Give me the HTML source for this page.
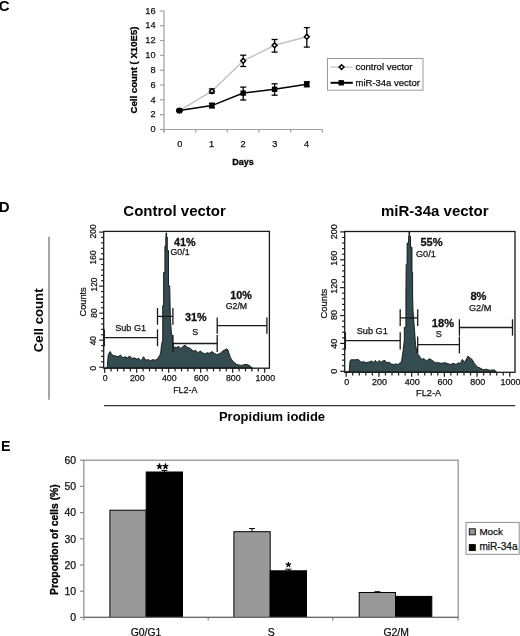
<!DOCTYPE html>
<html><head><meta charset="utf-8"><style>
html,body{margin:0;padding:0;background:#fff;}
body{width:520px;height:636px;overflow:hidden;}
svg{display:block;font-family:"Liberation Sans", sans-serif;filter:blur(0.3px);}
</style></head><body>
<svg width="520" height="636" viewBox="0 0 520 636">
<text x="-1.3" y="10.9" font-size="15" font-weight="bold" text-anchor="start" fill="#000">C</text>
<line x1="164.00" y1="11.00" x2="164.00" y2="132.50" stroke="#a0a0a0" stroke-width="1.2"/>
<line x1="160.00" y1="129.50" x2="164.00" y2="129.50" stroke="#a0a0a0" stroke-width="1.2"/>
<text x="155.5" y="132.3" font-size="9.2" stroke="#111" stroke-width="0.25" text-anchor="end" fill="#111">0</text>
<line x1="160.00" y1="114.67" x2="164.00" y2="114.67" stroke="#a0a0a0" stroke-width="1.2"/>
<text x="155.5" y="117.47" font-size="9.2" stroke="#111" stroke-width="0.25" text-anchor="end" fill="#111">2</text>
<line x1="160.00" y1="99.84" x2="164.00" y2="99.84" stroke="#a0a0a0" stroke-width="1.2"/>
<text x="155.5" y="102.64" font-size="9.2" stroke="#111" stroke-width="0.25" text-anchor="end" fill="#111">4</text>
<line x1="160.00" y1="85.01" x2="164.00" y2="85.01" stroke="#a0a0a0" stroke-width="1.2"/>
<text x="155.5" y="87.81" font-size="9.2" stroke="#111" stroke-width="0.25" text-anchor="end" fill="#111">6</text>
<line x1="160.00" y1="70.18" x2="164.00" y2="70.18" stroke="#a0a0a0" stroke-width="1.2"/>
<text x="155.5" y="72.98" font-size="9.2" stroke="#111" stroke-width="0.25" text-anchor="end" fill="#111">8</text>
<line x1="160.00" y1="55.35" x2="164.00" y2="55.35" stroke="#a0a0a0" stroke-width="1.2"/>
<text x="155.5" y="58.15" font-size="9.2" stroke="#111" stroke-width="0.25" text-anchor="end" fill="#111">10</text>
<line x1="160.00" y1="40.52" x2="164.00" y2="40.52" stroke="#a0a0a0" stroke-width="1.2"/>
<text x="155.5" y="43.32" font-size="9.2" stroke="#111" stroke-width="0.25" text-anchor="end" fill="#111">12</text>
<line x1="160.00" y1="25.69" x2="164.00" y2="25.69" stroke="#a0a0a0" stroke-width="1.2"/>
<text x="155.5" y="28.49" font-size="9.2" stroke="#111" stroke-width="0.25" text-anchor="end" fill="#111">14</text>
<line x1="160.00" y1="10.86" x2="164.00" y2="10.86" stroke="#a0a0a0" stroke-width="1.2"/>
<text x="155.5" y="13.66" font-size="9.2" stroke="#111" stroke-width="0.25" text-anchor="end" fill="#111">16</text>
<line x1="160.00" y1="129.50" x2="322.30" y2="129.50" stroke="#a0a0a0" stroke-width="1.2"/>
<line x1="164.00" y1="129.50" x2="164.00" y2="132.50" stroke="#a0a0a0" stroke-width="1.2"/>
<line x1="195.66" y1="129.50" x2="195.66" y2="132.50" stroke="#a0a0a0" stroke-width="1.2"/>
<line x1="227.32" y1="129.50" x2="227.32" y2="132.50" stroke="#a0a0a0" stroke-width="1.2"/>
<line x1="258.98" y1="129.50" x2="258.98" y2="132.50" stroke="#a0a0a0" stroke-width="1.2"/>
<line x1="290.64" y1="129.50" x2="290.64" y2="132.50" stroke="#a0a0a0" stroke-width="1.2"/>
<line x1="322.30" y1="129.50" x2="322.30" y2="132.50" stroke="#a0a0a0" stroke-width="1.2"/>
<text x="179.83" y="146.9" font-size="9.2" stroke="#111" stroke-width="0.25" text-anchor="middle" fill="#111">0</text>
<text x="211.49" y="146.9" font-size="9.2" stroke="#111" stroke-width="0.25" text-anchor="middle" fill="#111">1</text>
<text x="243.15" y="146.9" font-size="9.2" stroke="#111" stroke-width="0.25" text-anchor="middle" fill="#111">2</text>
<text x="274.81" y="146.9" font-size="9.2" stroke="#111" stroke-width="0.25" text-anchor="middle" fill="#111">3</text>
<text x="306.47" y="146.9" font-size="9.2" stroke="#111" stroke-width="0.25" text-anchor="middle" fill="#111">4</text>
<text x="243" y="164.7" font-size="9" font-weight="bold" stroke="#000" stroke-width="0.3" text-anchor="middle" fill="#000">Days</text>
<text x="137.4" y="70.0" font-size="9.6" font-weight="bold" stroke="#000" stroke-width="0.3" text-anchor="middle" fill="#000" transform="rotate(-90 137.4 70.0)">Cell count ( X10E5)</text>
<polyline fill="none" stroke="#c2c2c2" stroke-width="1.5" points="179.4,110.6 211.9,91.2 243.2,60.8 274.6,45.3 306.8,36.8"/>
<line x1="179.40" y1="109.80" x2="179.40" y2="111.40" stroke="#000" stroke-width="1.3"/>
<line x1="176.40" y1="109.80" x2="182.40" y2="109.80" stroke="#000" stroke-width="1.3"/>
<line x1="176.40" y1="111.40" x2="182.40" y2="111.40" stroke="#000" stroke-width="1.3"/>
<line x1="211.90" y1="88.90" x2="211.90" y2="93.10" stroke="#000" stroke-width="1.3"/>
<line x1="208.90" y1="88.90" x2="214.90" y2="88.90" stroke="#000" stroke-width="1.3"/>
<line x1="208.90" y1="93.10" x2="214.90" y2="93.10" stroke="#000" stroke-width="1.3"/>
<line x1="243.20" y1="55.20" x2="243.20" y2="66.50" stroke="#000" stroke-width="1.3"/>
<line x1="240.20" y1="55.20" x2="246.20" y2="55.20" stroke="#000" stroke-width="1.3"/>
<line x1="240.20" y1="66.50" x2="246.20" y2="66.50" stroke="#000" stroke-width="1.3"/>
<line x1="274.60" y1="39.50" x2="274.60" y2="52.10" stroke="#000" stroke-width="1.3"/>
<line x1="271.60" y1="39.50" x2="277.60" y2="39.50" stroke="#000" stroke-width="1.3"/>
<line x1="271.60" y1="52.10" x2="277.60" y2="52.10" stroke="#000" stroke-width="1.3"/>
<line x1="306.80" y1="27.60" x2="306.80" y2="47.10" stroke="#000" stroke-width="1.3"/>
<line x1="303.80" y1="27.60" x2="309.80" y2="27.60" stroke="#000" stroke-width="1.3"/>
<line x1="303.80" y1="47.10" x2="309.80" y2="47.10" stroke="#000" stroke-width="1.3"/>
<path d="M179.4,108.2 L181.8,110.6 L179.4,113.0 L177.0,110.6 Z" fill="#fff" stroke="#000" stroke-width="1.5"/>
<path d="M211.9,88.8 L214.3,91.2 L211.9,93.6 L209.5,91.2 Z" fill="#fff" stroke="#000" stroke-width="1.5"/>
<path d="M243.2,58.4 L245.6,60.8 L243.2,63.2 L240.8,60.8 Z" fill="#fff" stroke="#000" stroke-width="1.5"/>
<path d="M274.6,42.9 L277.0,45.3 L274.6,47.7 L272.2,45.3 Z" fill="#fff" stroke="#000" stroke-width="1.5"/>
<path d="M306.8,34.4 L309.2,36.8 L306.8,39.2 L304.4,36.8 Z" fill="#fff" stroke="#000" stroke-width="1.5"/>
<polyline fill="none" stroke="#000" stroke-width="1.5" points="179.4,110.6 211.9,105.6 243.2,93.1 274.6,89.3 306.8,84.2"/>
<line x1="179.40" y1="109.80" x2="179.40" y2="111.40" stroke="#000" stroke-width="1.3"/>
<line x1="176.40" y1="109.80" x2="182.40" y2="109.80" stroke="#000" stroke-width="1.3"/>
<line x1="176.40" y1="111.40" x2="182.40" y2="111.40" stroke="#000" stroke-width="1.3"/>
<line x1="211.90" y1="103.20" x2="211.90" y2="107.80" stroke="#000" stroke-width="1.3"/>
<line x1="208.90" y1="103.20" x2="214.90" y2="103.20" stroke="#000" stroke-width="1.3"/>
<line x1="208.90" y1="107.80" x2="214.90" y2="107.80" stroke="#000" stroke-width="1.3"/>
<line x1="243.20" y1="87.10" x2="243.20" y2="100.00" stroke="#000" stroke-width="1.3"/>
<line x1="240.20" y1="87.10" x2="246.20" y2="87.10" stroke="#000" stroke-width="1.3"/>
<line x1="240.20" y1="100.00" x2="246.20" y2="100.00" stroke="#000" stroke-width="1.3"/>
<line x1="274.60" y1="83.80" x2="274.60" y2="95.20" stroke="#000" stroke-width="1.3"/>
<line x1="271.60" y1="83.80" x2="277.60" y2="83.80" stroke="#000" stroke-width="1.3"/>
<line x1="271.60" y1="95.20" x2="277.60" y2="95.20" stroke="#000" stroke-width="1.3"/>
<line x1="306.80" y1="81.80" x2="306.80" y2="86.80" stroke="#000" stroke-width="1.3"/>
<line x1="303.80" y1="81.80" x2="309.80" y2="81.80" stroke="#000" stroke-width="1.3"/>
<line x1="303.80" y1="86.80" x2="309.80" y2="86.80" stroke="#000" stroke-width="1.3"/>
<rect x="176.7" y="107.9" width="5.4" height="5.4" fill="#000"/>
<rect x="209.2" y="102.9" width="5.4" height="5.4" fill="#000"/>
<rect x="240.5" y="90.4" width="5.4" height="5.4" fill="#000"/>
<rect x="271.9" y="86.6" width="5.4" height="5.4" fill="#000"/>
<rect x="304.1" y="81.5" width="5.4" height="5.4" fill="#000"/>
<rect x="327.5" y="58.5" width="95.5" height="31.7" fill="#fff" stroke="#9a9a9a" stroke-width="1"/>
<line x1="330.60" y1="67.10" x2="352.80" y2="67.10" stroke="#bdbdbd" stroke-width="1.2"/>
<path d="M341.6,64.7 L344,67.1 L341.6,69.5 L339.2,67.1 Z" fill="#fff" stroke="#000" stroke-width="1.5"/>
<text x="355.5" y="69.8" font-size="9.5" stroke="#111" stroke-width="0.25" text-anchor="start" fill="#111">control vector</text>
<line x1="330.60" y1="82.80" x2="352.80" y2="82.80" stroke="#000" stroke-width="2"/>
<rect x="338.5" y="80.1" width="5.4" height="5.4" fill="#000"/>
<text x="355.5" y="86.1" font-size="9.5" stroke="#111" stroke-width="0.25" text-anchor="start" fill="#111">miR-34a vector</text>
<text x="-1.2" y="212.4" font-size="15" font-weight="bold" text-anchor="start" fill="#000">D</text>
<text x="174.6" y="216.3" font-size="15" font-weight="bold" text-anchor="middle" fill="#000">Control vector</text>
<text x="434.8" y="216.3" font-size="15" font-weight="bold" text-anchor="middle" fill="#000">miR-34a vector</text>
<line x1="49.00" y1="236.70" x2="49.00" y2="399.80" stroke="#6a6a6a" stroke-width="1.2"/>
<text x="43.0" y="320.3" font-size="13.2" font-weight="bold" text-anchor="middle" fill="#000" transform="rotate(-90 43.0 320.3)">Cell count</text>
<line x1="104.00" y1="405.70" x2="515.20" y2="405.70" stroke="#333" stroke-width="1.2"/>
<text x="272" y="421" font-size="13" font-weight="bold" text-anchor="middle" fill="#000">Propidium iodide</text>
<polygon fill="#344b4f" stroke="#0c1414" stroke-width="0.9" stroke-linejoin="miter" points="104.5,368.0 107.2,368.0 107.6,362.0 108.3,354.4 110.1,351.5 111.8,354.4 113.5,355.5 115.8,356.1 118.2,356.7 120.5,355.0 122.8,357.8 125.1,356.7 127.4,357.8 129.7,356.1 132.0,358.4 134.3,357.8 136.6,359.0 138.9,358.4 141.2,360.7 143.5,356.7 145.8,360.2 148.2,359.6 150.5,360.7 152.8,359.6 155.1,360.2 157.4,359.0 159.7,355.5 160.8,352.0 161.5,344.6 162.7,340.0 162.7,305.6 163.6,305.6 163.6,272.5 164.9,272.5 164.9,246.1 165.8,246.1 165.8,237.1 166.0,237.1 166.0,232.9 166.6,232.9 166.6,237.1 167.3,237.1 167.3,250.6 168.5,250.6 168.5,285.7 169.7,285.7 170.0,300.0 170.4,318.6 171.5,334.0 172.6,336.0 172.6,341.8 173.8,347.0 176.1,347.5 179.0,346.4 180.7,348.7 183.0,346.4 185.3,345.2 187.0,347.5 188.8,347.5 191.1,349.3 193.4,351.0 195.7,350.4 198.0,352.7 200.3,351.0 202.6,352.7 204.9,353.9 207.2,352.7 209.5,353.3 211.8,351.6 214.2,353.3 216.5,354.5 218.8,353.9 220.1,353.5 222.7,350.9 224.7,349.9 226.8,348.8 227.9,349.9 228.9,353.0 230.5,357.7 232.5,360.8 234.6,362.8 236.7,364.4 238.8,364.9 241.9,365.4 244.0,364.7 246.0,364.4 248.1,364.9 250.2,366.0 251.7,367.5 252.5,368.0"/>
<rect x="103.7" y="231.4" width="165.7" height="136.79999999999998" fill="none" stroke="#1a1a1a" stroke-width="1.3"/>
<line x1="99.20" y1="367.20" x2="103.70" y2="367.20" stroke="#1a1a1a" stroke-width="1.2"/>
<text x="96.5" y="368.1" font-size="8.4" stroke="#111" stroke-width="0.25" text-anchor="middle" fill="#111" transform="rotate(-90 96.5 368.1)">0</text>
<line x1="101.10" y1="361.80" x2="103.70" y2="361.80" stroke="#1a1a1a" stroke-width="1.2"/>
<line x1="101.10" y1="356.39" x2="103.70" y2="356.39" stroke="#1a1a1a" stroke-width="1.2"/>
<line x1="101.10" y1="350.99" x2="103.70" y2="350.99" stroke="#1a1a1a" stroke-width="1.2"/>
<line x1="101.10" y1="345.58" x2="103.70" y2="345.58" stroke="#1a1a1a" stroke-width="1.2"/>
<line x1="99.20" y1="340.18" x2="103.70" y2="340.18" stroke="#1a1a1a" stroke-width="1.2"/>
<text x="96.5" y="340.7" font-size="8.4" stroke="#111" stroke-width="0.25" text-anchor="middle" fill="#111" transform="rotate(-90 96.5 340.7)">40</text>
<line x1="101.10" y1="334.78" x2="103.70" y2="334.78" stroke="#1a1a1a" stroke-width="1.2"/>
<line x1="101.10" y1="329.37" x2="103.70" y2="329.37" stroke="#1a1a1a" stroke-width="1.2"/>
<line x1="101.10" y1="323.97" x2="103.70" y2="323.97" stroke="#1a1a1a" stroke-width="1.2"/>
<line x1="101.10" y1="318.56" x2="103.70" y2="318.56" stroke="#1a1a1a" stroke-width="1.2"/>
<line x1="99.20" y1="313.16" x2="103.70" y2="313.16" stroke="#1a1a1a" stroke-width="1.2"/>
<text x="96.5" y="313.0" font-size="8.4" stroke="#111" stroke-width="0.25" text-anchor="middle" fill="#111" transform="rotate(-90 96.5 313.0)">80</text>
<line x1="101.10" y1="307.76" x2="103.70" y2="307.76" stroke="#1a1a1a" stroke-width="1.2"/>
<line x1="101.10" y1="302.35" x2="103.70" y2="302.35" stroke="#1a1a1a" stroke-width="1.2"/>
<line x1="101.10" y1="296.95" x2="103.70" y2="296.95" stroke="#1a1a1a" stroke-width="1.2"/>
<line x1="101.10" y1="291.54" x2="103.70" y2="291.54" stroke="#1a1a1a" stroke-width="1.2"/>
<line x1="99.20" y1="286.14" x2="103.70" y2="286.14" stroke="#1a1a1a" stroke-width="1.2"/>
<text x="96.5" y="284.5" font-size="8.4" stroke="#111" stroke-width="0.25" text-anchor="middle" fill="#111" transform="rotate(-90 96.5 284.5)">120</text>
<line x1="101.10" y1="280.74" x2="103.70" y2="280.74" stroke="#1a1a1a" stroke-width="1.2"/>
<line x1="101.10" y1="275.33" x2="103.70" y2="275.33" stroke="#1a1a1a" stroke-width="1.2"/>
<line x1="101.10" y1="269.93" x2="103.70" y2="269.93" stroke="#1a1a1a" stroke-width="1.2"/>
<line x1="101.10" y1="264.52" x2="103.70" y2="264.52" stroke="#1a1a1a" stroke-width="1.2"/>
<line x1="99.20" y1="259.12" x2="103.70" y2="259.12" stroke="#1a1a1a" stroke-width="1.2"/>
<text x="96.5" y="257.4" font-size="8.4" stroke="#111" stroke-width="0.25" text-anchor="middle" fill="#111" transform="rotate(-90 96.5 257.4)">160</text>
<line x1="101.10" y1="253.72" x2="103.70" y2="253.72" stroke="#1a1a1a" stroke-width="1.2"/>
<line x1="101.10" y1="248.31" x2="103.70" y2="248.31" stroke="#1a1a1a" stroke-width="1.2"/>
<line x1="101.10" y1="242.91" x2="103.70" y2="242.91" stroke="#1a1a1a" stroke-width="1.2"/>
<line x1="101.10" y1="237.50" x2="103.70" y2="237.50" stroke="#1a1a1a" stroke-width="1.2"/>
<line x1="99.20" y1="232.10" x2="103.70" y2="232.10" stroke="#1a1a1a" stroke-width="1.2"/>
<text x="96.5" y="231.4" font-size="8.4" stroke="#111" stroke-width="0.25" text-anchor="middle" fill="#111" transform="rotate(-90 96.5 231.4)">200</text>
<line x1="104.70" y1="368.20" x2="104.70" y2="372.70" stroke="#1a1a1a" stroke-width="1.2"/>
<text x="105.3" y="381.3" font-size="8.8" stroke="#111" stroke-width="0.25" text-anchor="middle" fill="#111">0</text>
<line x1="111.10" y1="368.20" x2="111.10" y2="371.40" stroke="#1a1a1a" stroke-width="1.2"/>
<line x1="117.50" y1="368.20" x2="117.50" y2="371.40" stroke="#1a1a1a" stroke-width="1.2"/>
<line x1="123.90" y1="368.20" x2="123.90" y2="371.40" stroke="#1a1a1a" stroke-width="1.2"/>
<line x1="130.30" y1="368.20" x2="130.30" y2="371.40" stroke="#1a1a1a" stroke-width="1.2"/>
<line x1="136.70" y1="368.20" x2="136.70" y2="372.70" stroke="#1a1a1a" stroke-width="1.2"/>
<text x="137.3" y="381.3" font-size="8.8" stroke="#111" stroke-width="0.25" text-anchor="middle" fill="#111">200</text>
<line x1="143.10" y1="368.20" x2="143.10" y2="371.40" stroke="#1a1a1a" stroke-width="1.2"/>
<line x1="149.50" y1="368.20" x2="149.50" y2="371.40" stroke="#1a1a1a" stroke-width="1.2"/>
<line x1="155.90" y1="368.20" x2="155.90" y2="371.40" stroke="#1a1a1a" stroke-width="1.2"/>
<line x1="162.30" y1="368.20" x2="162.30" y2="371.40" stroke="#1a1a1a" stroke-width="1.2"/>
<line x1="168.70" y1="368.20" x2="168.70" y2="372.70" stroke="#1a1a1a" stroke-width="1.2"/>
<text x="169.3" y="381.3" font-size="8.8" stroke="#111" stroke-width="0.25" text-anchor="middle" fill="#111">400</text>
<line x1="175.10" y1="368.20" x2="175.10" y2="371.40" stroke="#1a1a1a" stroke-width="1.2"/>
<line x1="181.50" y1="368.20" x2="181.50" y2="371.40" stroke="#1a1a1a" stroke-width="1.2"/>
<line x1="187.90" y1="368.20" x2="187.90" y2="371.40" stroke="#1a1a1a" stroke-width="1.2"/>
<line x1="194.30" y1="368.20" x2="194.30" y2="371.40" stroke="#1a1a1a" stroke-width="1.2"/>
<line x1="200.70" y1="368.20" x2="200.70" y2="372.70" stroke="#1a1a1a" stroke-width="1.2"/>
<text x="201.3" y="381.3" font-size="8.8" stroke="#111" stroke-width="0.25" text-anchor="middle" fill="#111">600</text>
<line x1="207.10" y1="368.20" x2="207.10" y2="371.40" stroke="#1a1a1a" stroke-width="1.2"/>
<line x1="213.50" y1="368.20" x2="213.50" y2="371.40" stroke="#1a1a1a" stroke-width="1.2"/>
<line x1="219.90" y1="368.20" x2="219.90" y2="371.40" stroke="#1a1a1a" stroke-width="1.2"/>
<line x1="226.30" y1="368.20" x2="226.30" y2="371.40" stroke="#1a1a1a" stroke-width="1.2"/>
<line x1="232.70" y1="368.20" x2="232.70" y2="372.70" stroke="#1a1a1a" stroke-width="1.2"/>
<text x="233.3" y="381.3" font-size="8.8" stroke="#111" stroke-width="0.25" text-anchor="middle" fill="#111">800</text>
<line x1="239.10" y1="368.20" x2="239.10" y2="371.40" stroke="#1a1a1a" stroke-width="1.2"/>
<line x1="245.50" y1="368.20" x2="245.50" y2="371.40" stroke="#1a1a1a" stroke-width="1.2"/>
<line x1="251.90" y1="368.20" x2="251.90" y2="371.40" stroke="#1a1a1a" stroke-width="1.2"/>
<line x1="258.30" y1="368.20" x2="258.30" y2="371.40" stroke="#1a1a1a" stroke-width="1.2"/>
<line x1="264.70" y1="368.20" x2="264.70" y2="372.70" stroke="#1a1a1a" stroke-width="1.2"/>
<text x="265.3" y="381.3" font-size="8.8" stroke="#111" stroke-width="0.25" text-anchor="middle" fill="#111">1000</text>
<line x1="104.30" y1="337.70" x2="157.50" y2="337.70" stroke="#1a1a1a" stroke-width="1.3"/>
<line x1="104.30" y1="329.40" x2="104.30" y2="346.20" stroke="#1a1a1a" stroke-width="1.3"/>
<line x1="157.50" y1="329.40" x2="157.50" y2="346.20" stroke="#1a1a1a" stroke-width="1.3"/>
<line x1="157.50" y1="316.40" x2="172.90" y2="316.40" stroke="#1a1a1a" stroke-width="1.3"/>
<line x1="157.50" y1="308.00" x2="157.50" y2="324.80" stroke="#1a1a1a" stroke-width="1.3"/>
<line x1="172.90" y1="308.00" x2="172.90" y2="324.80" stroke="#1a1a1a" stroke-width="1.3"/>
<line x1="172.90" y1="343.50" x2="217.20" y2="343.50" stroke="#1a1a1a" stroke-width="1.3"/>
<line x1="172.90" y1="335.00" x2="172.90" y2="352.00" stroke="#1a1a1a" stroke-width="1.3"/>
<line x1="217.20" y1="335.00" x2="217.20" y2="352.00" stroke="#1a1a1a" stroke-width="1.3"/>
<line x1="217.20" y1="325.70" x2="266.90" y2="325.70" stroke="#1a1a1a" stroke-width="1.3"/>
<line x1="217.20" y1="317.40" x2="217.20" y2="333.80" stroke="#1a1a1a" stroke-width="1.3"/>
<line x1="266.90" y1="317.40" x2="266.90" y2="333.80" stroke="#1a1a1a" stroke-width="1.3"/>
<text x="174" y="246.1" font-size="10.8" font-weight="bold" stroke="#111" stroke-width="0.3" text-anchor="start" fill="#111">41%</text>
<text x="170.5" y="254.8" font-size="8.8" stroke="#111" stroke-width="0.25" text-anchor="start" fill="#111">G0/1</text>
<text x="185" y="321.1" font-size="10.8" font-weight="bold" stroke="#111" stroke-width="0.3" text-anchor="start" fill="#111">31%</text>
<text x="192.3" y="335.2" font-size="8.8" stroke="#111" stroke-width="0.25" text-anchor="start" fill="#111">S</text>
<text x="230.3" y="298.5" font-size="10.8" font-weight="bold" stroke="#111" stroke-width="0.3" text-anchor="start" fill="#111">10%</text>
<text x="225.7" y="308.5" font-size="8.8" stroke="#111" stroke-width="0.25" text-anchor="start" fill="#111">G2/M</text>
<text x="115.2" y="331.0" font-size="9.1" stroke="#111" stroke-width="0.25" text-anchor="start" fill="#111">Sub G1</text>
<text x="185.3" y="392.5" font-size="8.9" stroke="#111" stroke-width="0.25" text-anchor="middle" fill="#111">FL2-A</text>
<text x="85.6" y="301.9" font-size="9.2" stroke="#111" stroke-width="0.25" text-anchor="middle" fill="#111" transform="rotate(-90 85.6 301.9)">Counts</text>
<polygon fill="#344b4f" stroke="#0c1414" stroke-width="0.9" stroke-linejoin="miter" points="345.5,371.8 349.2,371.8 349.6,366.0 350.0,361.0 350.9,359.8 355.5,359.8 357.3,359.3 359.6,360.4 361.3,362.2 363.6,361.6 365.9,362.7 368.2,362.2 371.7,361.0 374.0,362.7 375.2,360.4 377.5,362.7 379.2,360.4 380.9,362.2 382.7,361.0 385.0,360.4 386.7,362.7 389.0,362.2 391.3,363.9 393.6,364.5 395.9,363.9 398.2,364.5 400.5,362.2 401.5,361.5 403.1,350.8 404.3,340.0 404.3,327.2 405.9,327.2 405.9,293.7 406.2,264.2 407.1,264.2 407.1,243.1 408.6,243.1 408.6,236.3 409.0,236.3 409.0,231.8 409.6,231.8 409.6,236.3 410.5,236.3 410.5,247.2 412.0,247.2 412.0,272.5 412.6,272.5 412.6,295.0 413.0,309.9 414.6,331.0 415.5,344.6 417.3,353.5 419.6,356.3 421.3,359.2 424.2,358.7 426.5,361.0 429.4,358.7 432.3,360.4 435.2,362.7 438.1,362.7 441.5,363.3 445.0,362.7 447.9,363.8 450.8,364.4 453.1,363.3 456.0,364.4 458.3,362.7 460.0,363.8 462.3,359.4 464.6,362.3 468.1,356.0 469.8,357.7 472.1,359.4 474.4,363.5 477.3,366.9 480.2,368.1 483.1,369.8 486.5,369.2 490.0,370.4 493.5,369.8 495.2,370.4 496.3,371.8"/>
<rect x="344.7" y="231.5" width="170.3" height="140.8" fill="none" stroke="#1a1a1a" stroke-width="1.3"/>
<line x1="340.20" y1="371.30" x2="344.70" y2="371.30" stroke="#1a1a1a" stroke-width="1.2"/>
<text x="337.3" y="371.2" font-size="9.0" stroke="#111" stroke-width="0.25" text-anchor="middle" fill="#111" transform="rotate(-90 337.3 371.2)">0</text>
<line x1="342.10" y1="365.72" x2="344.70" y2="365.72" stroke="#1a1a1a" stroke-width="1.2"/>
<line x1="342.10" y1="360.15" x2="344.70" y2="360.15" stroke="#1a1a1a" stroke-width="1.2"/>
<line x1="342.10" y1="354.57" x2="344.70" y2="354.57" stroke="#1a1a1a" stroke-width="1.2"/>
<line x1="342.10" y1="349.00" x2="344.70" y2="349.00" stroke="#1a1a1a" stroke-width="1.2"/>
<line x1="340.20" y1="343.42" x2="344.70" y2="343.42" stroke="#1a1a1a" stroke-width="1.2"/>
<text x="337.3" y="343.8" font-size="9.0" stroke="#111" stroke-width="0.25" text-anchor="middle" fill="#111" transform="rotate(-90 337.3 343.8)">40</text>
<line x1="342.10" y1="337.84" x2="344.70" y2="337.84" stroke="#1a1a1a" stroke-width="1.2"/>
<line x1="342.10" y1="332.27" x2="344.70" y2="332.27" stroke="#1a1a1a" stroke-width="1.2"/>
<line x1="342.10" y1="326.69" x2="344.70" y2="326.69" stroke="#1a1a1a" stroke-width="1.2"/>
<line x1="342.10" y1="321.12" x2="344.70" y2="321.12" stroke="#1a1a1a" stroke-width="1.2"/>
<line x1="340.20" y1="315.54" x2="344.70" y2="315.54" stroke="#1a1a1a" stroke-width="1.2"/>
<text x="337.3" y="315.0" font-size="9.0" stroke="#111" stroke-width="0.25" text-anchor="middle" fill="#111" transform="rotate(-90 337.3 315.0)">80</text>
<line x1="342.10" y1="309.96" x2="344.70" y2="309.96" stroke="#1a1a1a" stroke-width="1.2"/>
<line x1="342.10" y1="304.39" x2="344.70" y2="304.39" stroke="#1a1a1a" stroke-width="1.2"/>
<line x1="342.10" y1="298.81" x2="344.70" y2="298.81" stroke="#1a1a1a" stroke-width="1.2"/>
<line x1="342.10" y1="293.24" x2="344.70" y2="293.24" stroke="#1a1a1a" stroke-width="1.2"/>
<line x1="340.20" y1="287.66" x2="344.70" y2="287.66" stroke="#1a1a1a" stroke-width="1.2"/>
<text x="337.3" y="286.3" font-size="9.0" stroke="#111" stroke-width="0.25" text-anchor="middle" fill="#111" transform="rotate(-90 337.3 286.3)">120</text>
<line x1="342.10" y1="282.08" x2="344.70" y2="282.08" stroke="#1a1a1a" stroke-width="1.2"/>
<line x1="342.10" y1="276.51" x2="344.70" y2="276.51" stroke="#1a1a1a" stroke-width="1.2"/>
<line x1="342.10" y1="270.93" x2="344.70" y2="270.93" stroke="#1a1a1a" stroke-width="1.2"/>
<line x1="342.10" y1="265.36" x2="344.70" y2="265.36" stroke="#1a1a1a" stroke-width="1.2"/>
<line x1="340.20" y1="259.78" x2="344.70" y2="259.78" stroke="#1a1a1a" stroke-width="1.2"/>
<text x="337.3" y="258.3" font-size="9.0" stroke="#111" stroke-width="0.25" text-anchor="middle" fill="#111" transform="rotate(-90 337.3 258.3)">160</text>
<line x1="342.10" y1="254.20" x2="344.70" y2="254.20" stroke="#1a1a1a" stroke-width="1.2"/>
<line x1="342.10" y1="248.63" x2="344.70" y2="248.63" stroke="#1a1a1a" stroke-width="1.2"/>
<line x1="342.10" y1="243.05" x2="344.70" y2="243.05" stroke="#1a1a1a" stroke-width="1.2"/>
<line x1="342.10" y1="237.48" x2="344.70" y2="237.48" stroke="#1a1a1a" stroke-width="1.2"/>
<line x1="340.20" y1="231.90" x2="344.70" y2="231.90" stroke="#1a1a1a" stroke-width="1.2"/>
<text x="337.3" y="231.8" font-size="9.0" stroke="#111" stroke-width="0.25" text-anchor="middle" fill="#111" transform="rotate(-90 337.3 231.8)">200</text>
<line x1="346.20" y1="372.30" x2="346.20" y2="376.80" stroke="#1a1a1a" stroke-width="1.2"/>
<text x="346.8" y="385.4" font-size="9.0" stroke="#111" stroke-width="0.25" text-anchor="middle" fill="#111">0</text>
<line x1="352.74" y1="372.30" x2="352.74" y2="375.50" stroke="#1a1a1a" stroke-width="1.2"/>
<line x1="359.29" y1="372.30" x2="359.29" y2="375.50" stroke="#1a1a1a" stroke-width="1.2"/>
<line x1="365.83" y1="372.30" x2="365.83" y2="375.50" stroke="#1a1a1a" stroke-width="1.2"/>
<line x1="372.38" y1="372.30" x2="372.38" y2="375.50" stroke="#1a1a1a" stroke-width="1.2"/>
<line x1="378.92" y1="372.30" x2="378.92" y2="376.80" stroke="#1a1a1a" stroke-width="1.2"/>
<text x="379.52" y="385.4" font-size="9.0" stroke="#111" stroke-width="0.25" text-anchor="middle" fill="#111">200</text>
<line x1="385.46" y1="372.30" x2="385.46" y2="375.50" stroke="#1a1a1a" stroke-width="1.2"/>
<line x1="392.01" y1="372.30" x2="392.01" y2="375.50" stroke="#1a1a1a" stroke-width="1.2"/>
<line x1="398.55" y1="372.30" x2="398.55" y2="375.50" stroke="#1a1a1a" stroke-width="1.2"/>
<line x1="405.10" y1="372.30" x2="405.10" y2="375.50" stroke="#1a1a1a" stroke-width="1.2"/>
<line x1="411.64" y1="372.30" x2="411.64" y2="376.80" stroke="#1a1a1a" stroke-width="1.2"/>
<text x="412.24" y="385.4" font-size="9.0" stroke="#111" stroke-width="0.25" text-anchor="middle" fill="#111">400</text>
<line x1="418.18" y1="372.30" x2="418.18" y2="375.50" stroke="#1a1a1a" stroke-width="1.2"/>
<line x1="424.73" y1="372.30" x2="424.73" y2="375.50" stroke="#1a1a1a" stroke-width="1.2"/>
<line x1="431.27" y1="372.30" x2="431.27" y2="375.50" stroke="#1a1a1a" stroke-width="1.2"/>
<line x1="437.82" y1="372.30" x2="437.82" y2="375.50" stroke="#1a1a1a" stroke-width="1.2"/>
<line x1="444.36" y1="372.30" x2="444.36" y2="376.80" stroke="#1a1a1a" stroke-width="1.2"/>
<text x="444.96" y="385.4" font-size="9.0" stroke="#111" stroke-width="0.25" text-anchor="middle" fill="#111">600</text>
<line x1="450.90" y1="372.30" x2="450.90" y2="375.50" stroke="#1a1a1a" stroke-width="1.2"/>
<line x1="457.45" y1="372.30" x2="457.45" y2="375.50" stroke="#1a1a1a" stroke-width="1.2"/>
<line x1="463.99" y1="372.30" x2="463.99" y2="375.50" stroke="#1a1a1a" stroke-width="1.2"/>
<line x1="470.54" y1="372.30" x2="470.54" y2="375.50" stroke="#1a1a1a" stroke-width="1.2"/>
<line x1="477.08" y1="372.30" x2="477.08" y2="376.80" stroke="#1a1a1a" stroke-width="1.2"/>
<text x="477.68" y="385.4" font-size="9.0" stroke="#111" stroke-width="0.25" text-anchor="middle" fill="#111">800</text>
<line x1="483.62" y1="372.30" x2="483.62" y2="375.50" stroke="#1a1a1a" stroke-width="1.2"/>
<line x1="490.17" y1="372.30" x2="490.17" y2="375.50" stroke="#1a1a1a" stroke-width="1.2"/>
<line x1="496.71" y1="372.30" x2="496.71" y2="375.50" stroke="#1a1a1a" stroke-width="1.2"/>
<line x1="503.26" y1="372.30" x2="503.26" y2="375.50" stroke="#1a1a1a" stroke-width="1.2"/>
<line x1="509.80" y1="372.30" x2="509.80" y2="376.80" stroke="#1a1a1a" stroke-width="1.2"/>
<text x="510.4" y="385.4" font-size="9.0" stroke="#111" stroke-width="0.25" text-anchor="middle" fill="#111">1000</text>
<line x1="345.40" y1="340.70" x2="400.20" y2="340.70" stroke="#1a1a1a" stroke-width="1.3"/>
<line x1="345.40" y1="332.20" x2="345.40" y2="349.50" stroke="#1a1a1a" stroke-width="1.3"/>
<line x1="400.20" y1="332.20" x2="400.20" y2="349.50" stroke="#1a1a1a" stroke-width="1.3"/>
<line x1="400.20" y1="317.90" x2="417.70" y2="317.90" stroke="#1a1a1a" stroke-width="1.3"/>
<line x1="400.20" y1="309.30" x2="400.20" y2="326.00" stroke="#1a1a1a" stroke-width="1.3"/>
<line x1="417.70" y1="309.30" x2="417.70" y2="326.00" stroke="#1a1a1a" stroke-width="1.3"/>
<line x1="417.70" y1="344.70" x2="459.40" y2="344.70" stroke="#1a1a1a" stroke-width="1.3"/>
<line x1="417.70" y1="336.50" x2="417.70" y2="353.50" stroke="#1a1a1a" stroke-width="1.3"/>
<line x1="459.40" y1="336.50" x2="459.40" y2="353.50" stroke="#1a1a1a" stroke-width="1.3"/>
<line x1="459.40" y1="327.50" x2="512.50" y2="327.50" stroke="#1a1a1a" stroke-width="1.3"/>
<line x1="459.40" y1="319.30" x2="459.40" y2="335.70" stroke="#1a1a1a" stroke-width="1.3"/>
<line x1="512.50" y1="319.30" x2="512.50" y2="335.70" stroke="#1a1a1a" stroke-width="1.3"/>
<text x="420.4" y="245.9" font-size="11.1" font-weight="bold" stroke="#111" stroke-width="0.3" text-anchor="start" fill="#111">55%</text>
<text x="416" y="256.7" font-size="9.1" stroke="#111" stroke-width="0.25" text-anchor="start" fill="#111">G0/1</text>
<text x="431.8" y="327" font-size="11.1" font-weight="bold" stroke="#111" stroke-width="0.3" text-anchor="start" fill="#111">18%</text>
<text x="435.7" y="336.8" font-size="9.1" stroke="#111" stroke-width="0.25" text-anchor="start" fill="#111">S</text>
<text x="470.4" y="299.5" font-size="11.1" font-weight="bold" stroke="#111" stroke-width="0.3" text-anchor="start" fill="#111">8%</text>
<text x="468.9" y="310.8" font-size="9.2" stroke="#111" stroke-width="0.25" text-anchor="start" fill="#111">G2/M</text>
<text x="356.7" y="334.2" font-size="9.2" stroke="#111" stroke-width="0.25" text-anchor="start" fill="#111">Sub G1</text>
<text x="428.6" y="396.0" font-size="9.2" stroke="#111" stroke-width="0.25" text-anchor="middle" fill="#111">FL2-A</text>
<text x="327.0" y="303.6" font-size="9.4" stroke="#111" stroke-width="0.25" text-anchor="middle" fill="#111" transform="rotate(-90 327.0 303.6)">Counts</text>
<text x="1.0" y="451.2" font-size="14.2" font-weight="bold" text-anchor="start" fill="#000">E</text>
<rect x="83.8" y="460.2" width="374.4" height="157.2" fill="#fff" stroke="#8c8c8c" stroke-width="1.2"/>
<line x1="80.00" y1="617.40" x2="83.80" y2="617.40" stroke="#8c8c8c" stroke-width="1.2"/>
<text x="76.1" y="621.1" font-size="10.5" stroke="#111" stroke-width="0.25" text-anchor="end" fill="#111">0</text>
<line x1="80.00" y1="591.20" x2="83.80" y2="591.20" stroke="#8c8c8c" stroke-width="1.2"/>
<text x="76.1" y="594.9" font-size="10.5" stroke="#111" stroke-width="0.25" text-anchor="end" fill="#111">10</text>
<line x1="80.00" y1="565.00" x2="83.80" y2="565.00" stroke="#8c8c8c" stroke-width="1.2"/>
<text x="76.1" y="568.7" font-size="10.5" stroke="#111" stroke-width="0.25" text-anchor="end" fill="#111">20</text>
<line x1="80.00" y1="538.80" x2="83.80" y2="538.80" stroke="#8c8c8c" stroke-width="1.2"/>
<text x="76.1" y="542.5" font-size="10.5" stroke="#111" stroke-width="0.25" text-anchor="end" fill="#111">30</text>
<line x1="80.00" y1="512.60" x2="83.80" y2="512.60" stroke="#8c8c8c" stroke-width="1.2"/>
<text x="76.1" y="516.3" font-size="10.5" stroke="#111" stroke-width="0.25" text-anchor="end" fill="#111">40</text>
<line x1="80.00" y1="486.40" x2="83.80" y2="486.40" stroke="#8c8c8c" stroke-width="1.2"/>
<text x="76.1" y="490.1" font-size="10.5" stroke="#111" stroke-width="0.25" text-anchor="end" fill="#111">50</text>
<line x1="80.00" y1="460.20" x2="83.80" y2="460.20" stroke="#8c8c8c" stroke-width="1.2"/>
<text x="76.1" y="463.9" font-size="10.5" stroke="#111" stroke-width="0.25" text-anchor="end" fill="#111">60</text>
<line x1="83.80" y1="617.40" x2="83.80" y2="620.40" stroke="#8c8c8c" stroke-width="1.2"/>
<line x1="208.20" y1="617.40" x2="208.20" y2="620.40" stroke="#8c8c8c" stroke-width="1.2"/>
<line x1="332.70" y1="617.40" x2="332.70" y2="620.40" stroke="#8c8c8c" stroke-width="1.2"/>
<line x1="458.20" y1="617.40" x2="458.20" y2="620.40" stroke="#8c8c8c" stroke-width="1.2"/>
<rect x="109.9" y="510.2" width="36.3" height="107.2" fill="#999" stroke="#000" stroke-width="1"/>
<rect x="146.2" y="472.0" width="36.3" height="145.4" fill="#000" stroke="#000" stroke-width="1"/>
<line x1="164.35" y1="470.42" x2="164.35" y2="471.99" stroke="#000" stroke-width="1"/>
<line x1="161.35" y1="470.42" x2="167.35" y2="470.42" stroke="#000" stroke-width="1"/>
<rect x="233.9" y="531.7" width="36.3" height="85.7" fill="#999" stroke="#000" stroke-width="1"/>
<rect x="270.2" y="570.8" width="36.3" height="46.6" fill="#000" stroke="#000" stroke-width="1"/>
<line x1="252.05" y1="528.58" x2="252.05" y2="531.73" stroke="#000" stroke-width="1"/>
<line x1="249.05" y1="528.58" x2="255.05" y2="528.58" stroke="#000" stroke-width="1"/>
<line x1="288.35" y1="569.19" x2="288.35" y2="570.76" stroke="#000" stroke-width="1"/>
<line x1="285.35" y1="569.19" x2="291.35" y2="569.19" stroke="#000" stroke-width="1"/>
<rect x="359.2" y="592.5" width="36.3" height="24.9" fill="#999" stroke="#000" stroke-width="1"/>
<rect x="395.5" y="596.4" width="36.3" height="21.0" fill="#000" stroke="#000" stroke-width="1"/>
<line x1="377.35" y1="591.72" x2="377.35" y2="592.51" stroke="#000" stroke-width="1"/>
<line x1="374.35" y1="591.72" x2="380.35" y2="591.72" stroke="#000" stroke-width="1"/>
<line x1="83.80" y1="617.40" x2="458.20" y2="617.40" stroke="#6a6a6a" stroke-width="1.2"/>
<path d="M159.50,466.40 L159.50,464.00 M159.50,466.40 L161.78,465.66 M159.50,466.40 L160.91,468.34 M159.50,466.40 L158.09,468.34 M159.50,466.40 L157.22,465.66 " stroke="#000" stroke-width="1.5" stroke-linecap="round" fill="none"/>
<path d="M165.50,466.40 L165.50,464.00 M165.50,466.40 L167.78,465.66 M165.50,466.40 L166.91,468.34 M165.50,466.40 L164.09,468.34 M165.50,466.40 L163.22,465.66 " stroke="#000" stroke-width="1.5" stroke-linecap="round" fill="none"/>
<path d="M288.40,564.70 L288.40,562.30 M288.40,564.70 L290.68,563.96 M288.40,564.70 L289.81,566.64 M288.40,564.70 L286.99,566.64 M288.40,564.70 L286.12,563.96 " stroke="#000" stroke-width="1.25" stroke-linecap="round" fill="none"/>
<text x="146.0" y="635.9" font-size="10.4" stroke="#111" stroke-width="0.25" text-anchor="middle" fill="#111">G0/G1</text>
<text x="271.3" y="635.9" font-size="10.4" stroke="#111" stroke-width="0.25" text-anchor="middle" fill="#111">S</text>
<text x="396.2" y="635.9" font-size="10.4" stroke="#111" stroke-width="0.25" text-anchor="middle" fill="#111">G2/M</text>
<text x="58.4" y="539.6" font-size="10.4" font-weight="bold" stroke="#000" stroke-width="0.3" text-anchor="middle" fill="#000" transform="rotate(-90 58.4 539.6)">Proportion of cells (%)</text>
<rect x="466" y="522.4" width="53.2" height="31.9" fill="#fff" stroke="#8c8c8c" stroke-width="1"/>
<rect x="469.3" y="528.8" width="6" height="6" fill="#999" stroke="#000" stroke-width="0.9"/>
<text x="479.4" y="534.8" font-size="9.8" stroke="#111" stroke-width="0.25" text-anchor="start" fill="#111">Mock</text>
<rect x="469.3" y="544.6" width="6" height="6" fill="#000" stroke="#000" stroke-width="0.9"/>
<text x="479.4" y="550.3" font-size="10.1" stroke="#111" stroke-width="0.25" text-anchor="start" fill="#111">miR-34a</text>
</svg>
</body></html>
